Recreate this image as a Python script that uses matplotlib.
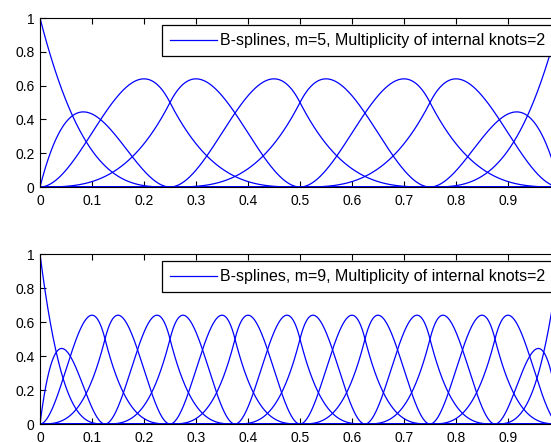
import numpy as np
import matplotlib
matplotlib.use('Agg')
from matplotlib import pyplot as plt

# breakpoints (m = number of breakpoints)
top_breaks = [0.0, 0.25, 0.5, 0.75, 1.0]
bottom_breaks = [0.0, 0.125, 0.25, 0.375, 0.5, 0.625, 0.75, 0.875, 1.0]
degree = 3
multiplicity = 2
top_label = 'B-splines, m=5, Multiplicity of internal knots=2'
bottom_label = 'B-splines, m=9, Multiplicity of internal knots=2'
x_ticks = [0, 0.1, 0.2, 0.3, 0.4, 0.5, 0.6, 0.7, 0.8, 0.9]
x_tick_labels = ['0', '0.1', '0.2', '0.3', '0.4', '0.5', '0.6', '0.7', '0.8', '0.9']
y_ticks = [0, 0.2, 0.4, 0.6, 0.8, 1]
y_tick_labels = ['0', '0.2', '0.4', '0.6', '0.8', '1']

plt.rcParams['font.family'] = ['Liberation Sans', 'DejaVu Sans']
plt.rcParams['font.size'] = 10


def knot_vector(breaks):
    knots = [breaks[0]] * (degree + 1)
    for b in breaks[1:-1]:
        knots += [b] * multiplicity
    knots += [breaks[-1]] * (degree + 1)
    return np.array(knots)


def basis(knots, x):
    # Cox-de Boor recursion
    n = len(knots) - 1
    B = np.zeros((n, len(x)))
    for i in range(n):
        if knots[i] < knots[i + 1]:
            B[i] = (x >= knots[i]) & (x < knots[i + 1])
            if knots[i + 1] == knots[-1]:
                B[i][x == knots[-1]] = 1
    for k in range(1, degree + 1):
        newB = np.zeros((n - k, len(x)))
        for i in range(n - k):
            d1 = knots[i + k] - knots[i]
            d2 = knots[i + k + 1] - knots[i + 1]
            if d1 > 0:
                newB[i] += (x - knots[i]) / d1 * B[i]
            if d2 > 0:
                newB[i] += (knots[i + k + 1] - x) / d2 * B[i + 1]
        B = newB
    return B


x = np.linspace(0, 1, 1001)
fig = plt.figure(figsize=(5.51, 4.42), dpi=100)
W = 520 / 551.0
panels = [(top_breaks, top_label, [40 / 551.0, 1 - 187 / 442.0, W, 169 / 442.0]),
          (bottom_breaks, bottom_label, [40 / 551.0, 1 - 424 / 442.0, W, 170 / 442.0])]

for breaks, label, pos in panels:
    ax = fig.add_axes(pos)
    B = basis(knot_vector(breaks), x)
    for i in range(B.shape[0]):
        ax.plot(x, B[i], color=(0, 0, 1), lw=0.9, label=label if i == 0 else None)
    ax.set_xlim(0, 1)
    ax.set_ylim(0, 1)
    ax.set_xticks(x_ticks)
    ax.set_xticklabels(x_tick_labels)
    ax.set_yticks(y_ticks)
    ax.set_yticklabels(y_tick_labels)
    ax.tick_params(direction='in', top=True, right=True, length=4, width=0.8)
    ax.tick_params(axis='x', pad=5)
    ax.tick_params(axis='y', pad=4)
    for s in ax.spines.values():
        s.set_linewidth(0.8)
    leg = ax.legend(loc='upper right', fancybox=False, edgecolor='black', framealpha=1,
                    borderaxespad=0.45, handlelength=2.95, handletextpad=0.15,
                    borderpad=0.5, fontsize=11.5)
    leg.get_frame().set_linewidth(0.9)

fig.savefig('out.png', dpi=100)
